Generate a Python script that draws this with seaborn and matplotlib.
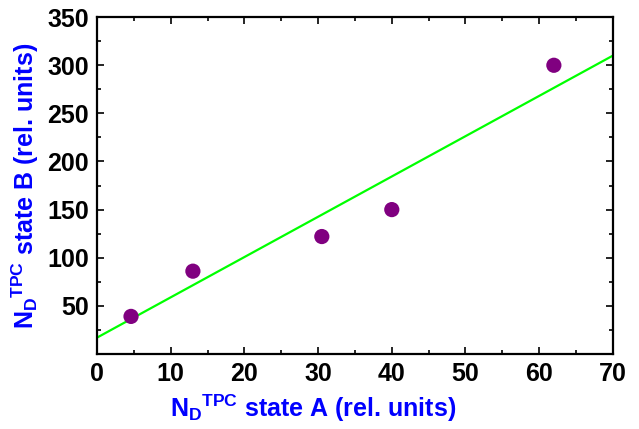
import matplotlib
matplotlib.use("Agg")
import matplotlib.pyplot as plt
from matplotlib.ticker import MultipleLocator
import seaborn as sns
import pandas as pd

# data
state_a = [4.6, 13.0, 30.5, 40.0, 62.0]
state_b = [39, 86, 122, 150, 300]
fit_x = [0, 70]
fit_y = [17, 310]

sns.set_theme(style="white")
plt.rcParams["font.family"] = ["Liberation Sans", "DejaVu Sans"]
plt.rcParams["font.weight"] = "bold"
plt.rcParams["mathtext.fontset"] = "custom"
plt.rcParams["mathtext.rm"] = "Liberation Sans:bold"
plt.rcParams["mathtext.it"] = "Liberation Sans:bold"
plt.rcParams["mathtext.bf"] = "Liberation Sans:bold"

df = pd.DataFrame({"a": state_a, "b": state_b})
fit = pd.DataFrame({"x": fit_x, "y": fit_y})

fig = plt.figure(figsize=(6.39, 4.29), dpi=100)
ax = fig.add_axes([0.152, 0.175, 0.807, 0.785])

sns.lineplot(data=fit, x="x", y="y", ax=ax, color="#00ff00", linewidth=1.6)
sns.scatterplot(data=df, x="a", y="b", ax=ax, color="#800080", s=120,
                edgecolor="none", zorder=3)

ax.set_xlim(0, 70)
ax.set_ylim(0, 350)
ax.xaxis.set_major_locator(MultipleLocator(10))
ax.xaxis.set_minor_locator(MultipleLocator(5))
ax.yaxis.set_major_locator(MultipleLocator(50))
ax.yaxis.set_minor_locator(MultipleLocator(25))
ax.set_yticks([50, 100, 150, 200, 250, 300, 350])

ax.tick_params(which="both", direction="in", top=True, right=True,
               bottom=True, left=True, color="black", width=1.2)
ax.tick_params(which="major", length=5, labelsize=18, pad=6,
               labelcolor="black")
ax.tick_params(which="minor", length=3)
for lbl in ax.get_xticklabels() + ax.get_yticklabels():
    lbl.set_fontweight("bold")

for sp in ax.spines.values():
    sp.set_color("black")
    sp.set_linewidth(1.6)

ax.set_xlabel(r"$N_D{}^{TPC}$ state A (rel. units)", color="#0000ff",
              fontsize=18, fontweight="bold")
ax.set_ylabel(r"$N_D{}^{TPC}$ state B (rel. units)", color="#0000ff",
              fontsize=18, fontweight="bold", labelpad=4)
ax.xaxis.set_label_coords(0.419, -0.115)

fig.savefig("out.png", dpi=100)
